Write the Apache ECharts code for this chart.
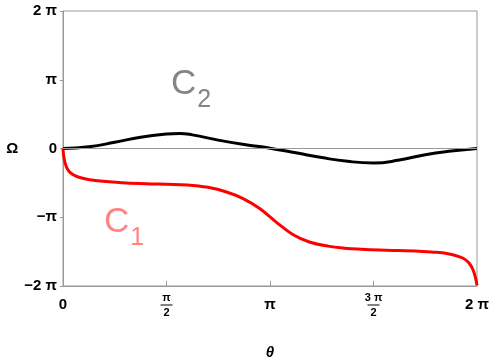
<!DOCTYPE html>
<html>
<head>
<meta charset="utf-8">
<script src="https://cdn.jsdelivr.net/npm/echarts@6/dist/echarts.min.js"></script>
<style>
  html, body { margin: 0; padding: 0; background: #fff; }
  #main { width: 491px; height: 360px; }
</style>
</head>
<body>
<div id="main"></div>
<script>
// θ and Ω both in units of π
var c1Theta = [0, 0.003, 0.01, 0.02, 0.035, 0.055, 0.09, 0.155, 0.284, 0.40, 0.50, 0.60, 0.70, 0.79, 0.87, 0.95, 1.03, 1.11, 1.19, 1.28, 1.36, 1.44, 1.53, 1.62, 1.70, 1.78, 1.86, 1.92, 1.945, 1.965, 1.98, 1.992, 2.0];
var c1Omega = [0, -0.1, -0.21, -0.29, -0.35, -0.39, -0.43, -0.465, -0.497, -0.512, -0.52, -0.53, -0.565, -0.632, -0.728, -0.873, -1.07, -1.25, -1.36, -1.42, -1.45, -1.466, -1.478, -1.485, -1.49, -1.505, -1.53, -1.58, -1.62, -1.68, -1.76, -1.87, -1.99];

var c2Theta = [0, 0.125, 0.25, 0.375, 0.5, 0.5625, 0.625, 0.75, 0.875, 1.0, 1.125, 1.25, 1.375, 1.5, 1.625, 1.75, 1.875, 2.0];
var c2Omega = [0, 0.025, 0.09, 0.165, 0.21, 0.218, 0.198, 0.122, 0.057, 0.005, -0.062, -0.132, -0.187, -0.21, -0.168, -0.09, -0.037, 0];

var yTicks = { '2': '2 π', '1': 'π', '0': '0', '-1': '−π', '-2': '−2 π' };
var xTicks = { '0': '0', '0.5': '{n|π}\n{bar|}\n{d|2}', '1': 'π', '1.5': '{n|3 π}\n{bar|}\n{d|2}', '2': '2 π' };

// label anchor (θ, Ω) in units of π
var labelPos = { c1: [0.295, -1.156], c2: [0.619, 0.853] };

function pairs(xs, ys) {
    return xs.map(function (x, i) { return [x, ys[i]]; });
}

var chart = echarts.init(document.getElementById('main'));
var font = 'Liberation Sans, Arial, sans-serif';

function curveLabel(text, sub, color) {
    return {
        show: true, position: 'inside',
        formatter: '{c|' + text + '}{s|' + sub + '}',
        rich: {
            c: { fontFamily: font, fontSize: 35, color: color, verticalAlign: 'top', lineHeight: 36 },
            s: { fontFamily: font, fontSize: 25, color: color, verticalAlign: 'bottom', lineHeight: 46, padding: [0, 0, 0, 1] }
        }
    };
}

var option = {
    animation: false,
    grid: {
        left: 63, right: 14, top: 11, bottom: 74,
        outerBoundsMode: 'none',
        containLabel: false,
        show: true,
        borderColor: '#999',
        borderWidth: 1,
        backgroundColor: 'transparent'
    },
    xAxis: {
        type: 'value',
        min: 0, max: 2, interval: 0.5,
        name: 'θ',
        nameLocation: 'middle',
        nameGap: 59,
        nameTextStyle: { fontFamily: font, fontSize: 15, fontWeight: 'bold', fontStyle: 'italic', color: '#000' },
        axisLine: { onZero: false, lineStyle: { color: '#999' } },
        axisTick: { inside: true, length: 5, lineStyle: { color: '#999' } },
        splitLine: { show: false },
        axisLabel: {
            margin: 19,
            verticalAlign: 'middle',
            fontFamily: font, fontSize: 15, fontWeight: 'bold', color: '#000',
            formatter: function (v) { return xTicks[String(v)] || ''; },
            rich: {
                n: { fontFamily: font, fontSize: 11, fontWeight: 'bold', color: '#000', lineHeight: 12, align: 'center' },
                d: { fontFamily: font, fontSize: 11, fontWeight: 'bold', color: '#000', lineHeight: 12, align: 'center' },
                bar: { width: 12, height: 1, lineHeight: 3, backgroundColor: '#000', align: 'center' }
            }
        }
    },
    yAxis: {
        type: 'value',
        min: -2, max: 2, interval: 1,
        name: 'Ω',
        nameLocation: 'middle',
        nameGap: 43,
        nameRotate: 0,
        nameTextStyle: { fontFamily: font, fontSize: 15, fontWeight: 'bold', color: '#000' },
        axisLine: { show: true, lineStyle: { color: '#999' } },
        axisTick: { show: true, inside: false, length: 3, lineStyle: { color: '#999' } },
        splitLine: { show: false },
        axisLabel: {
            margin: 6,
            fontFamily: font, fontSize: 15, fontWeight: 'bold', color: '#000',
            formatter: function (v) { return yTicks[String(v)] || ''; }
        }
    },
    series: [{
        name: 'C1',
        type: 'line',
        data: pairs(c1Theta, c1Omega),
        smooth: 0.4,
        showSymbol: false,
        lineStyle: { color: '#ff0000', width: 3 },
        markLine: {
            silent: true,
            symbol: 'none',
            label: { show: false },
            lineStyle: { color: '#999', width: 1, type: 'solid' },
            data: [{ yAxis: 0 }]
        },
        z: 2
    }, {
        name: 'C2',
        type: 'line',
        data: pairs(c2Theta, c2Omega),
        smooth: 0.5,
        showSymbol: false,
        lineStyle: { color: '#000', width: 3 },
        z: 3
    }, {
        type: 'scatter',
        symbolSize: 0,
        silent: true,
        data: [labelPos.c1],
        label: curveLabel('C', '1', '#ff6666')
    }, {
        type: 'scatter',
        symbolSize: 0,
        silent: true,
        data: [labelPos.c2],
        label: curveLabel('C', '2', '#666666')
    }]
};
chart.setOption(option);
</script>
</body>
</html>
